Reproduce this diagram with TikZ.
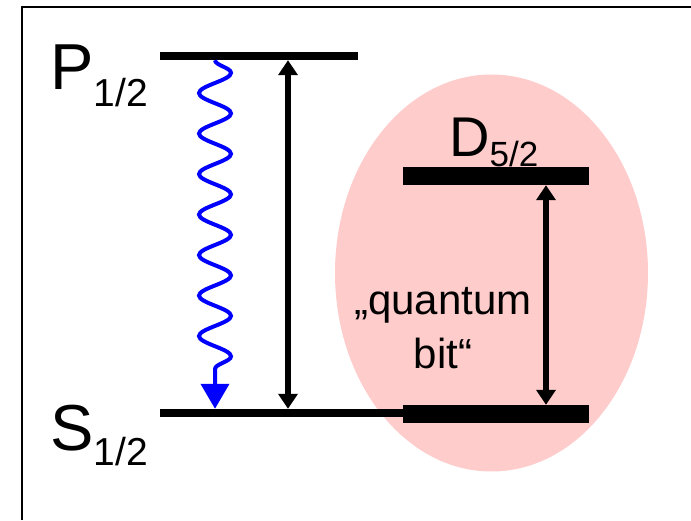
\documentclass[tikz,border=0pt]{standalone}
\usepackage{fontspec}
\setmainfont{Liberation Sans}
\usepackage{xcolor}
\definecolor{qbitpink}{RGB}{255,204,204}
\definecolor{decayblue}{RGB}{0,0,255}
\usepackage{tikz}
\usetikzlibrary{arrows.meta,positioning,decorations.pathmorphing}
\newcommand{\lvlsub}[3]{\raisebox{-#2}{\fontsize{#3}{#3}\selectfont #1}}
\tikzset{
  %% energy levels
  level/.style={fill=black, inner sep=0pt, minimum height=8pt},
  qlevel/.style={level, minimum height=18pt},
  lvllabel/.style={anchor=base west, inner sep=0pt,
                   font=\fontsize{65}{65}\selectfont},
  %% transitions
  trans/.style={line width=6pt, >={Triangle[width=19pt,length=15pt]}, <->},
  decay/.style={decayblue, line width=4pt,
                decorate, decoration={snake, amplitude=16pt, segment length=40.5pt}},
  qbittext/.style={align=center, inner sep=0pt,
                   font=\fontsize{42}{54}\selectfont},
}

\begin{document}
\begin{tikzpicture}[x=1pt,y=1pt]
\useasboundingbox (0,0) rectangle (691,520);
\draw[line width=2.5pt] (22,0) -- (22,513) -- (691,513);

%% qubit region
\fill[qbitpink] (491.5,247) ellipse [x radius=156.5, y radius=198.5];

%% levels
\node[level, minimum width=198pt] (lvlP) at (259,464) {};
\node[level, minimum width=245pt] (lvlS) at (282.5,107) {};
\node[qlevel, minimum width=186pt] (lvlSq) at (496,106) {};
\node[qlevel, minimum width=186pt] (lvlD) at (496,344) {};

\node[lvllabel] (labP) at (50,430) {P\lvlsub{1/2}{17pt}{39}};
\node[lvllabel] (labS) at (50,70) {S\lvlsub{1/2}{15pt}{39}};
\node[lvllabel, font=\fontsize{56}{56}\selectfont] (labD) at (449,363) {D\lvlsub{5/2}{10pt}{35}};
\node[qbittext] (labQ) at (443,192) {„quantum\\bit“};

\coordinate (wavex) at (215,0);
\coordinate (pumpx) at (288,0);
\coordinate (qbitx) at (546,0);

%% transitions
\path (lvlS.north -| wavex) ++(0,24) coordinate (waveend);
\draw[decay] (lvlP.south -| wavex) -- (waveend);
\draw[decayblue, line width=4pt, -{Triangle[width=28pt,length=25pt]}] (waveend) -- (lvlS.north -| wavex);
\draw[trans] (lvlP.south -| pumpx) -- (lvlS.north -| pumpx);
\draw[trans] (lvlD.south -| qbitx) -- (lvlSq.north -| qbitx);
\end{tikzpicture}
\end{document}
